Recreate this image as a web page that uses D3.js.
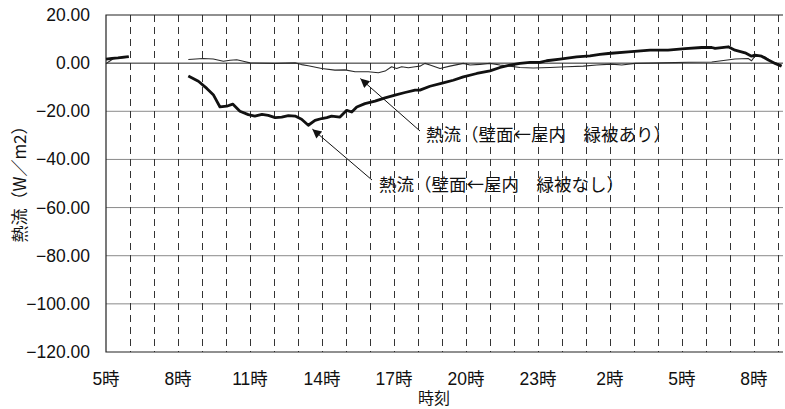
<!DOCTYPE html>
<html>
<head>
<meta charset="utf-8">
<script src="https://cdn.jsdelivr.net/npm/d3@7"></script>
<style>
  html, body { margin: 0; padding: 0; background: #fff; }
  svg text { font-family: "Liberation Sans", "Noto Sans CJK JP", sans-serif; fill: #111; }
  svg text.jp { font-family: "Noto Sans CJK JP", sans-serif; }
</style>
</head>
<body>
<svg id="chart" width="785" height="409"></svg>
<script>
// Elapsed hours since 5:00 on day one, and heat flux (W/m2)
const hoursBareA  = [0, 0.25, 0.5, 0.75, 0.95];
const fluxBareA   = [1.7, 2.0, 2.2, 2.5, 2.7];
const hoursBareB  = [3.43, 3.85, 4.2, 4.47, 4.75, 5.03, 5.28, 5.58, 5.93, 6.2, 6.5, 6.76, 7.05, 7.32, 7.6, 7.88, 8.15, 8.43, 8.71, 8.99, 9.2, 9.4, 9.75, 10.03, 10.24, 10.45, 10.79, 11.21, 11.63, 12.04, 12.46, 12.88, 13.08, 13.5, 14.05, 14.47, 14.89, 15.45, 16.0, 16.42, 16.83, 17.25, 17.67, 18.08, 18.36, 18.92, 19.61, 20.17, 20.58, 20.93, 21.76, 22.67, 23.42, 24.13, 24.82, 25.24, 25.38, 25.93, 26.21, 26.63, 26.9, 27.04, 27.32, 27.6, 27.88, 28.15];
const fluxBareB   = [-5.3, -7.5, -10.5, -13.1, -18.2, -17.9, -17.0, -20.0, -21.4, -22.0, -21.3, -21.7, -22.6, -22.4, -21.8, -22.0, -23.3, -25.8, -23.8, -23.0, -22.6, -22.0, -22.4, -19.6, -20.3, -18.2, -16.8, -15.8, -14.4, -13.3, -12.2, -11.2, -11.2, -9.6, -8.2, -7.1, -5.7, -4.3, -3.2, -1.8, -0.8, -0.1, 0.3, 0.3, 1.0, 1.7, 2.6, 3.0, 3.6, 4.0, 4.7, 5.4, 5.4, 6.0, 6.5, 6.5, 6.1, 6.8, 5.4, 4.3, 2.9, 3.3, 2.9, 1.3, -0.1, -1.3];

const hoursGreenA = [0, 0.1, 0.3, 0.95];
const fluxGreenA  = [-0.3, 0.5, 1.8, 2.5];
const hoursGreenB = [3.43, 4.05, 4.47, 4.89, 5.17, 5.45, 5.72, 6.0, 7.04, 7.88, 8.15, 8.43, 8.99, 9.54, 9.96, 10.38, 10.93, 11.35, 11.63, 11.9, 12.11, 12.32, 12.6, 12.88, 13.08, 13.29, 13.5, 13.92, 14.33, 14.89, 15.17, 15.58, 16.0, 16.42, 16.83, 17.25, 17.8, 18.5, 19.2, 19.89, 20.45, 21.07, 21.49, 22.04, 23.15, 24.26, 25.24, 25.65, 26.21, 26.76, 26.9, 27.04, 27.46, 27.74, 28.15];
const fluxGreenB  = [1.5, 1.9, 1.7, 0.8, 1.2, 1.4, 0.8, 0.1, -0.1, 0.1, -0.6, -1.1, -2.2, -2.9, -2.8, -3.6, -3.6, -4.0, -3.3, -1.5, -2.2, -1.5, -1.9, -1.5, -1.25, -0.1, -0.8, -2.2, -1.25, -0.1, -0.8, -0.5, -0.1, -0.8, -1.25, -1.8, -2.0, -1.8, -1.5, -1.25, -0.8, -0.4, -0.8, -0.1, 0.1, 0.4, 0.5, 1.0, 1.7, 1.9, 1.0, 2.9, 2.6, 0.5, -0.8];

const yTicks      = [20, 0, -20, -40, -60, -80, -100, -120];
const xTickHours  = [0, 3, 6, 9, 12, 15, 18, 21, 24, 27];
const xTickLabels = ["5時", "8時", "11時", "14時", "17時", "20時", "23時", "2時", "5時", "8時"];
const hourLines   = d3.range(1, 29);

const labelGreen = "熱流（壁面←屋内　緑被あり）";
const labelBare  = "熱流（壁面←屋内　緑被なし）";
const yTitle = "熱流（W／m2）";
const xTitle = "時刻";

const svg = d3.select("#chart");
const L = 106, R = 783, T = 15, B = 352;

const x = d3.scaleLinear().domain([0, 28.21]).range([L, R]);
const y = d3.scaleLinear().domain([-120, 20]).range([B, T]);

// horizontal grid
svg.append("g").selectAll("line")
  .data(yTicks.filter(v => v !== 20 && v !== -120 && v !== 0))
  .join("line")
  .attr("x1", L).attr("x2", R)
  .attr("y1", d => y(d)).attr("y2", d => y(d))
  .attr("stroke", "#8a8a8a").attr("stroke-width", 1);

// hourly dashed verticals
svg.append("g").selectAll("line")
  .data(hourLines)
  .join("line")
  .attr("x1", d => Math.round(x(d)) + 0.5).attr("x2", d => Math.round(x(d)) + 0.5)
  .attr("y1", T).attr("y2", B)
  .attr("stroke", "#333").attr("stroke-width", 1)
  .attr("stroke-dasharray", "7,5");

// zero line
svg.append("line")
  .attr("x1", L).attr("x2", R)
  .attr("y1", y(0)).attr("y2", y(0))
  .attr("stroke", "#222").attr("stroke-width", 1);

// frame: top, left, bottom
svg.append("path")
  .attr("d", `M${R},${T}H${L}V${B}H${R}`)
  .attr("fill", "none").attr("stroke", "#222").attr("stroke-width", 1.2);

// y tick labels
svg.append("g").selectAll("text")
  .data(yTicks)
  .join("text")
  .attr("x", 90).attr("y", d => y(d))
  .attr("text-anchor", "end").attr("dominant-baseline", "central")
  .attr("font-size", 17.5)
  .text(d => (d < 0 ? "\u2212" : "") + Math.abs(d).toFixed(2));

// x tick labels
svg.append("g").selectAll("text")
  .data(xTickHours)
  .join("text")
  .attr("x", d => x(d)).attr("y", 379)
  .attr("text-anchor", "middle").attr("dominant-baseline", "central")
  .attr("font-size", 17.5)
  .text((d, i) => xTickLabels[i]);

// axis titles
svg.append("text")
  .attr("class", "jp")
  .attr("x", 434).attr("y", 397)
  .attr("text-anchor", "middle").attr("dominant-baseline", "central")
  .attr("font-size", 16).text(xTitle);

svg.append("text")
  .attr("class", "jp")
  .attr("transform", "translate(18,180) rotate(-90)")
  .attr("text-anchor", "middle").attr("dominant-baseline", "central")
  .attr("font-size", 17).text(yTitle);

// series
const line = d3.line().x(d => x(d[0])).y(d => y(d[1]));
const zip = (a, b) => a.map((h, i) => [h, b[i]]);

[[hoursGreenA, fluxGreenA], [hoursGreenB, fluxGreenB]].forEach(([h, v]) => {
  svg.append("path").datum(zip(h, v))
    .attr("d", line).attr("fill", "none")
    .attr("stroke", "#2a2a2a").attr("stroke-width", 1.1)
    .attr("stroke-linejoin", "round");
});
[[hoursBareA, fluxBareA], [hoursBareB, fluxBareB]].forEach(([h, v]) => {
  svg.append("path").datum(zip(h, v))
    .attr("d", line).attr("fill", "none")
    .attr("stroke", "#111").attr("stroke-width", 2.8)
    .attr("stroke-linejoin", "round");
});

// callout arrows and labels
const defs = svg.append("defs");
defs.append("marker")
  .attr("id", "head").attr("viewBox", "0 0 10 10")
  .attr("refX", 10).attr("refY", 5)
  .attr("markerWidth", 11).attr("markerHeight", 9)
  .attr("markerUnits", "userSpaceOnUse")
  .attr("orient", "auto")
  .append("path").attr("d", "M0,0L10,5L0,10Z").attr("fill", "#111");

function callout(hTip, vTip, x0, y0, tx, ty, label) {
  svg.append("line")
    .attr("x1", x0).attr("y1", y0)
    .attr("x2", x(hTip)).attr("y2", y(vTip) + 1)
    .attr("stroke", "#111").attr("stroke-width", 1)
    .attr("marker-end", "url(#head)");
  svg.append("text")
    .attr("class", "jp")
    .attr("x", tx).attr("y", ty)
    .attr("dominant-baseline", "central")
    .attr("font-size", 17.5)
    .text(label);
}
callout(10.6, -6.0, 420, 131, 426, 133, labelGreen);
callout(8.6, -27.0, 372, 180, 379, 183, labelBare);
</script>
</body>
</html>
